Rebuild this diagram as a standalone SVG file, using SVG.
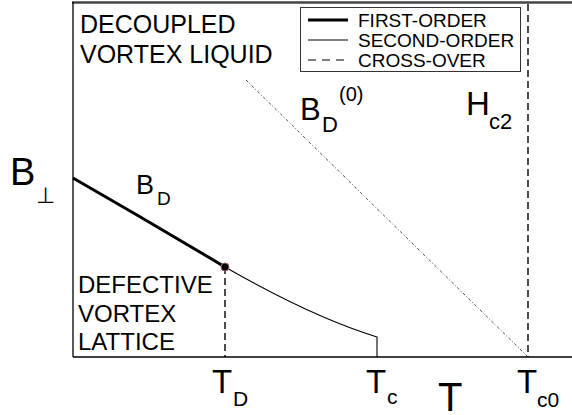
<svg xmlns="http://www.w3.org/2000/svg" width="572" height="415" viewBox="0 0 572 415">
<style>
text{font-family:"Liberation Sans",Arial,sans-serif;fill:#000}
.axis{stroke:#000;stroke-width:1.3;fill:none}
.dash{stroke:#000;stroke-width:1.4;fill:none;stroke-dasharray:7 4}
.thin{stroke:#000;stroke-width:1.1;fill:none}
.thick{stroke:#000;stroke-width:3;fill:none}
.dd{stroke:#555;stroke-width:1;fill:none;stroke-dasharray:3 2 1 2}
</style>
<rect width="572" height="415" fill="#fff"/>
<g id="frame">
<line x1="72" y1="2.5" x2="572" y2="2.5" stroke="#444" stroke-width="2.5"/>
<line class="axis" x1="73" y1="2" x2="73" y2="357"/>
<line class="axis" x1="73" y1="357" x2="572" y2="357" stroke="#333"/>
</g>
<g id="curves">
<path class="thick" d="M73,178 Q148,221 225,267"/>
<path class="thin" d="M225,267 Q312,317 377,337 L377,357"/>
<line class="dash" x1="225" y1="267" x2="225" y2="357"/>
<line class="dash" x1="528" y1="4" x2="528" y2="357" stroke-dasharray="8 4"/>
<line class="dd" x1="246" y1="80" x2="527" y2="356"/>
<circle cx="225" cy="267" r="4" fill="#000" stroke="#a06060" stroke-width="1"/>
</g>
<g id="legend">
<rect x="300.5" y="7.5" width="220" height="64" fill="#fff" stroke="#333" stroke-width="1"/>
<line class="thick" x1="308" y1="20" x2="348" y2="20"/>
<line class="thin" x1="308" y1="40" x2="348" y2="40"/>
<line class="thin" x1="308" y1="60" x2="348" y2="60" stroke-dasharray="8 6"/>
<text x="358" y="27" font-size="19">FIRST-ORDER</text>
<text x="358" y="47" font-size="19">SECOND-ORDER</text>
<text x="358" y="67" font-size="19">CROSS-OVER</text>
</g>
<g id="liquid">
<text x="80" y="33" font-size="25">DECOUPLED</text>
<text x="80" y="63" font-size="25">VORTEX LIQUID</text>
</g>
<g id="lattice">
<text x="78" y="293" font-size="24">DEFECTIVE</text>
<text x="78" y="322" font-size="24">VORTEX</text>
<text x="78" y="350" font-size="24">LATTICE</text>
</g>
<g id="ylabel">
<text x="10" y="185" font-size="38">B</text>
<text x="36" y="203" font-size="22" font-family="DejaVu Sans">⊥</text>
</g>
<g id="bd">
<text x="136" y="194" font-size="27">B</text>
<text x="157" y="205" font-size="19">D</text>
</g>
<g id="bd0">
<text x="300" y="120" font-size="31">B</text>
<text x="322" y="132" font-size="22">D</text>
<text x="339" y="101" font-size="20">(0)</text>
</g>
<g id="hc2">
<text x="466" y="115" font-size="33">H</text>
<text x="489" y="129" font-size="22">c2</text>
</g>
<g id="xlabels">
<text x="212" y="393" font-size="33">T</text>
<text x="233" y="406" font-size="21">D</text>
<text x="366" y="393" font-size="33">T</text>
<text x="387" y="404" font-size="21">c</text>
<text x="438" y="411" font-size="40">T</text>
<text x="517" y="393" font-size="33">T</text>
<text x="537" y="407" font-size="21">c0</text>
</g>
</svg>
